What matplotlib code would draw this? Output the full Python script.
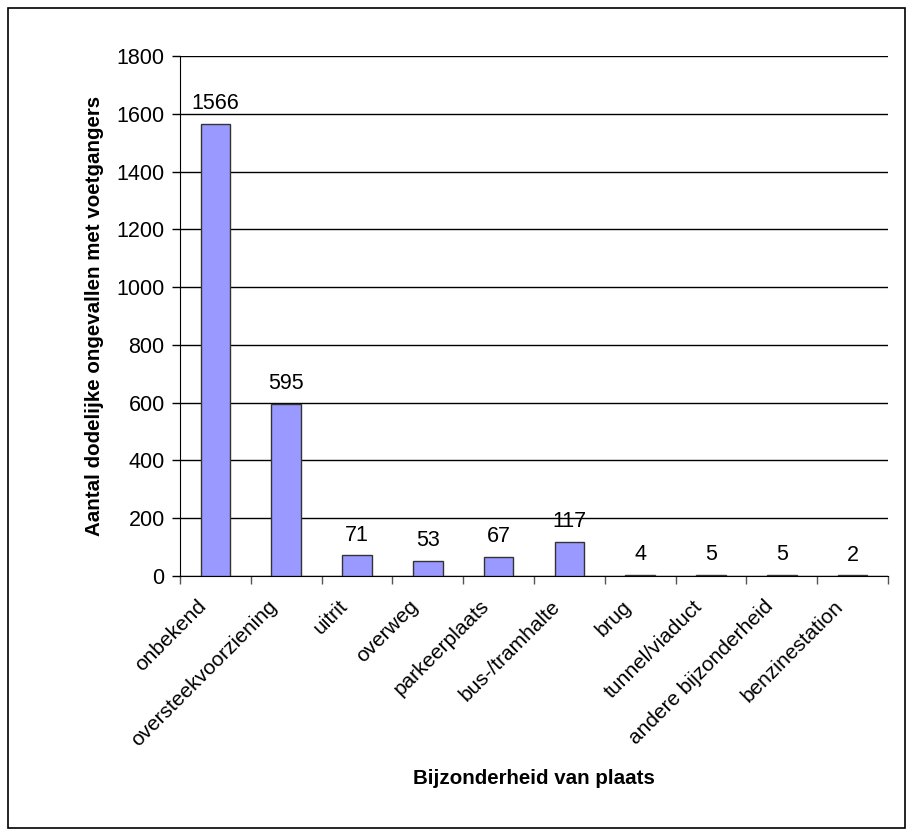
import matplotlib
matplotlib.use("Agg")
import matplotlib.pyplot as plt
from matplotlib.patches import Rectangle

categories = ["onbekend", "oversteekvoorziening", "uitrit", "overweg", "parkeerplaats",
              "bus-/tramhalte", "brug", "tunnel/viaduct", "andere bijzonderheid", "benzinestation"]
values = [1566, 595, 71, 53, 67, 117, 4, 5, 5, 2]
yticks = [0, 200, 400, 600, 800, 1000, 1200, 1400, 1600, 1800]

plt.rcParams["font.family"] = ["Liberation Sans", "DejaVu Sans"]
FS_NUM = 15.5
FS_CAT = 15
FS_TITLE = 14.8

fig = plt.figure(figsize=(9.13, 8.36), dpi=100)
ax = fig.add_axes([180 / 913, 1 - 576 / 836, 708 / 913, 520 / 836])

x = list(range(len(categories)))
ax.bar(x, values, width=0.42, color="#9999FF", edgecolor="#333333", linewidth=1.0, zorder=3)

for xi, v in zip(x, values):
    ax.annotate(str(v), (xi, v), xytext=(0, 7), textcoords="offset points",
                ha="center", va="bottom", fontsize=FS_NUM)

ax.set_xlim(-0.5, len(categories) - 0.5)
ax.set_ylim(0, 1800)
ax.set_yticks(yticks)
ax.set_yticklabels([str(t) for t in yticks], fontsize=FS_NUM)
ax.yaxis.grid(True, color="black", linewidth=1.0, zorder=0)
ax.set_axisbelow(True)

ax.set_xticks([i - 0.5 for i in range(len(categories) + 1)])
ax.set_xticklabels([])
ax.tick_params(axis="x", direction="out", length=6, width=1, colors="#555555")
ax.tick_params(axis="y", direction="out", length=6, width=1, pad=5)
for xi, c in zip(x, categories):
    ax.text(xi - 0.17, -95, c, rotation=45, rotation_mode="anchor", ha="right", va="center",
            fontsize=FS_CAT)

for s in ["top", "right"]:
    ax.spines[s].set_visible(False)
ax.spines["left"].set_color("black")
ax.spines["bottom"].set_color("black")

ax.set_ylabel("Aantal dodelijke ongevallen met voetgangers", fontsize=FS_TITLE, fontweight="bold",
              labelpad=9)
fig.text(534 / 913, 1 - 779 / 836, "Bijzonderheid van plaats", ha="center", va="center",
         fontsize=FS_TITLE, fontweight="bold")

fig.patches.append(Rectangle((8 / 913, 8 / 836), 897 / 913, 820 / 836, transform=fig.transFigure,
                             fill=False, edgecolor="black", linewidth=1.2))

fig.savefig("out.png", dpi=100)
